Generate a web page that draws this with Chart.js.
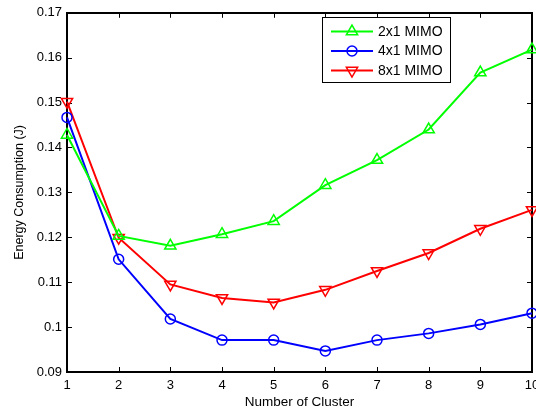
<!DOCTYPE html>
<html>
<head>
<meta charset="utf-8">
<script src="https://cdn.jsdelivr.net/npm/chart.js@4/dist/chart.umd.min.js"></script>
<style>
html, body { margin: 0; padding: 0; overflow: hidden; background: #fff; }
#wrap { width: 546px; height: 412px; }
</style>
</head>
<body>
<div id="wrap"><canvas id="myChart" width="546" height="412"></canvas></div>
<script>
// values
const clusters = ['1', '2', '3', '4', '5', '6', '7', '8', '9', '10'];
const mimo2x1 = [0.1428, 0.1203, 0.1181, 0.1207, 0.1236, 0.1316, 0.1372, 0.1440, 0.1567, 0.1618];
const mimo4x1 = [0.1467, 0.1151, 0.1018, 0.0971, 0.0971, 0.0947, 0.0971, 0.0986, 0.1006, 0.1031];
const mimo8x1 = [0.1502, 0.1199, 0.1095, 0.1065, 0.1055, 0.1083, 0.1125, 0.1165, 0.1219, 0.1261];
const yTicks = ['0.09', '0.1', '0.11', '0.12', '0.13', '0.14', '0.15', '0.16', '0.17'];

const FONT = 'Liberation Sans, Arial, Helvetica, sans-serif';

// matlab style box with inward ticks on all four sides
const boxPlugin = {
    id: 'matlabBox',
    beforeDatasetsDraw(chart) {
        const ctx = chart.ctx;
        const a = chart.chartArea;
        const x = chart.scales.x;
        const y = chart.scales.y;
        ctx.save();
        ctx.strokeStyle = '#000';
        ctx.lineWidth = 1;
        ctx.beginPath();
        x.ticks.forEach(function (t, i) {
            const px = Math.round(x.getPixelForTick(i)) + 0.5;
            ctx.moveTo(px, a.bottom); ctx.lineTo(px, a.bottom - 5);
            ctx.moveTo(px, a.top); ctx.lineTo(px, a.top + 5);
        });
        y.ticks.forEach(function (t) {
            const py = Math.round(y.getPixelForValue(t.value)) + 0.5;
            ctx.moveTo(a.left, py); ctx.lineTo(a.left + 5, py);
            ctx.moveTo(a.right, py); ctx.lineTo(a.right - 5, py);
        });
        ctx.stroke();
        ctx.lineWidth = 2;
        ctx.strokeRect(Math.round(a.left), Math.round(a.top), Math.round(a.right - a.left), Math.round(a.bottom - a.top));
        ctx.restore();
    }
};

// legend box in the upper part of the axes, line + marker + text
const legendPlugin = {
    id: 'boxLegend',
    afterDatasetsDraw(chart) {
        const ctx = chart.ctx;
        const bx = 322, by = 17, bw = 128, bh = 65;
        ctx.save();
        ctx.fillStyle = '#fff';
        ctx.fillRect(bx, by, bw, bh);
        ctx.strokeStyle = '#000';
        ctx.lineWidth = 1;
        ctx.strokeRect(bx + 0.5, by + 0.5, bw, bh);
        chart.data.datasets.forEach(function (ds, i) {
            const ry = 31.5 + i * 19.5;
            ctx.strokeStyle = ds.borderColor;
            ctx.lineWidth = ds.borderWidth;
            ctx.beginPath();
            ctx.moveTo(331, ry);
            ctx.lineTo(373, ry);
            ctx.stroke();
            ctx.lineWidth = ds.pointBorderWidth;
            ctx.fillStyle = 'rgba(0,0,0,0)';
            Chart.helpers.drawPoint(ctx, {
                pointStyle: ds.pointStyle,
                rotation: ds.pointRotation || 0,
                radius: ds.pointRadius,
                borderWidth: ds.pointBorderWidth
            }, 352, ry);
            ctx.fillStyle = '#000';
            ctx.font = '14px ' + FONT;
            ctx.textBaseline = 'middle';
            ctx.textAlign = 'left';
            ctx.fillText(ds.label, 378, ry + 0.5);
        });
        ctx.restore();
    }
};

function drawGraph() {
    let ctx = document.getElementById('myChart');
    new Chart(ctx, {
        type: 'line',
        data: {
            labels: clusters,
            datasets: [{
                label: '2x1 MIMO',
                data: mimo2x1,
                borderColor: '#00ff00',
                backgroundColor: 'rgba(0,0,0,0)',
                pointBackgroundColor: 'rgba(0,0,0,0)',
                pointStyle: 'triangle',
                pointRadius: 6.5,
                pointBorderWidth: 1.5,
                borderWidth: 2
            }, {
                label: '4x1 MIMO',
                data: mimo4x1,
                borderColor: '#0000ff',
                backgroundColor: 'rgba(0,0,0,0)',
                pointBackgroundColor: 'rgba(0,0,0,0)',
                pointStyle: 'circle',
                pointRadius: 5,
                pointBorderWidth: 1.5,
                borderWidth: 2
            }, {
                label: '8x1 MIMO',
                data: mimo8x1,
                borderColor: '#ff0000',
                backgroundColor: 'rgba(0,0,0,0)',
                pointBackgroundColor: 'rgba(0,0,0,0)',
                pointStyle: 'triangle',
                pointRotation: 180,
                pointRadius: 6.5,
                pointBorderWidth: 1.5,
                borderWidth: 2
            }]
        },
        options: {
            responsive: false,
            animation: false,
            layout: { padding: { top: 10, right: 14, left: 0, bottom: 0 } },
            elements: { line: { tension: 0 } },
            plugins: {
                legend: { display: false },
                tooltip: { enabled: false }
            },
            scales: {
                x: {
                    offset: false,
                    grid: { display: false, drawTicks: false },
                    border: { display: false },
                    ticks: {
                        color: '#000',
                        font: { family: FONT, size: 13 },
                        padding: 6,
                        maxRotation: 0,
                        autoSkip: false
                    },
                    title: {
                        display: true,
                        text: 'Number of Cluster',
                        color: '#000',
                        font: { family: FONT, size: 13.5 },
                        padding: { top: 0, bottom: 2 }
                    },
                    afterFit(s) { s.height = 40; }
                },
                y: {
                    min: 0.09,
                    max: 0.17,
                    grid: { display: false, drawTicks: false },
                    border: { display: false },
                    ticks: {
                        stepSize: 0.01,
                        color: '#000',
                        font: { family: FONT, size: 13 },
                        padding: 5,
                        callback: function (v, i) { return yTicks[i] !== undefined ? yTicks[i] : v; }
                    },
                    title: {
                        display: true,
                        text: 'Energy Consumption (J)',
                        color: '#000',
                        font: { family: FONT, size: 12.5 },
                        padding: { top: 12, bottom: 0 }
                    },
                    afterFit(s) { s.width = 67; }
                }
            }
        },
        plugins: [boxPlugin, legendPlugin]
    });
}

drawGraph();
</script>
</body>
</html>
